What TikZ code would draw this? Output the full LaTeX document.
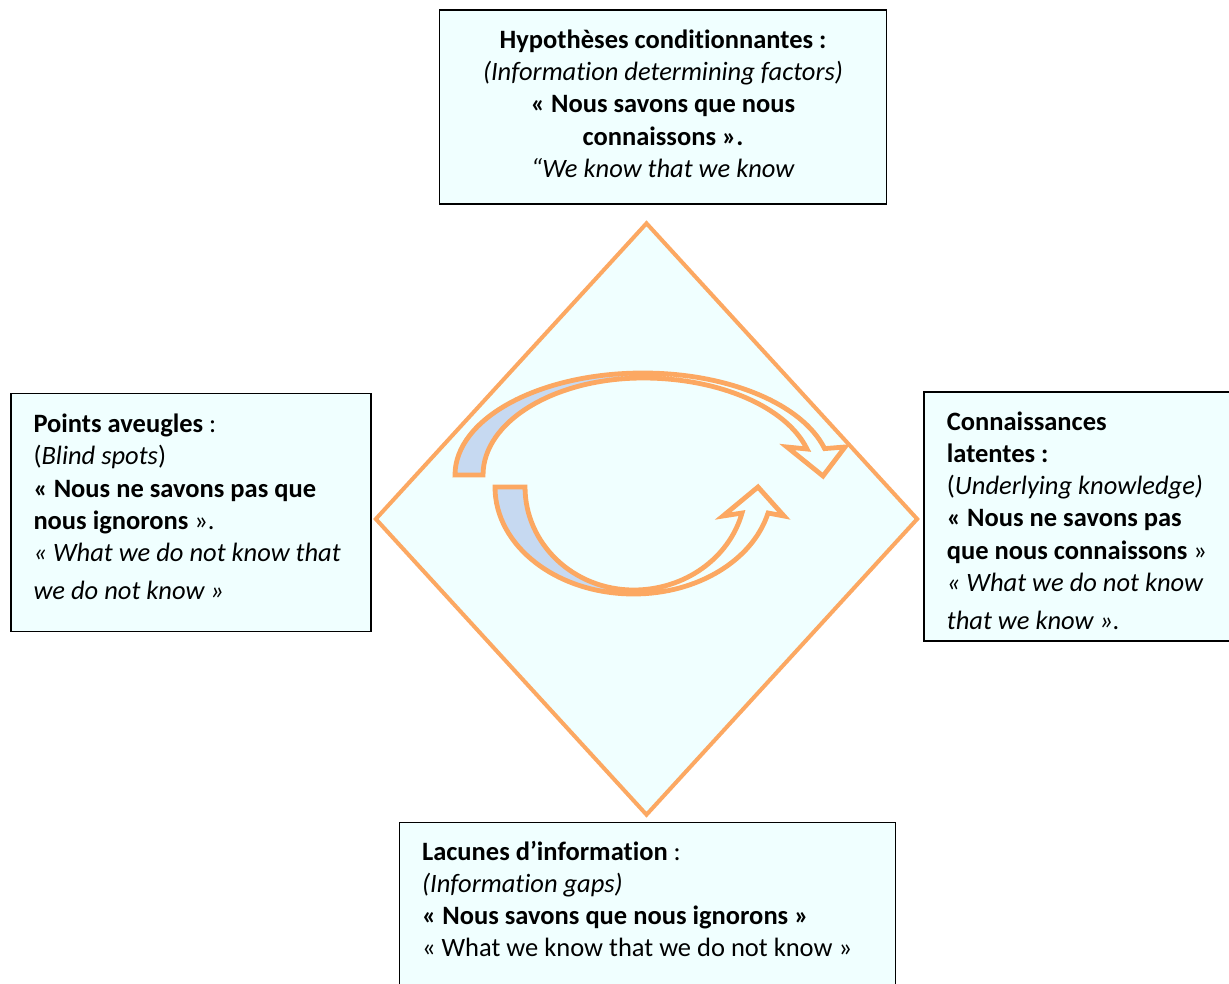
\documentclass[tikz,border=0pt]{standalone}
\usepackage{fontspec}
\setmainfont{Carlito}[Ligatures={TeX,NoCommon}]
\usetikzlibrary{shapes.geometric,positioning,calc}
\definecolor{PaleCyan}{HTML}{F0FFFF}
\definecolor{LoopOrange}{HTML}{FCA862}
\definecolor{BackBlue}{HTML}{C6D9F1}

\begin{document}
\begin{tikzpicture}[x=1pt, y=1pt,
  infobox/.style={rectangle, draw=black, line width=1.8pt, fill=PaleCyan, anchor=north west, inner sep=0pt, outer sep=0pt},
  infotext/.style={inner sep=0pt, align=left, font=\fontsize{26.5}{32.2}\selectfont, execute at begin node=\strut},
  quadrant/.style={diamond, draw=LoopOrange, line width=4pt, fill=PaleCyan, inner sep=0pt, minimum width=543pt, minimum height=593pt},
  loopline/.style={draw=LoopOrange, line width=4.8pt, line join=miter},
  loopback/.style={fill=BackBlue}
]

% Page
\path[use as bounding box, fill=white] (0,0) rectangle (1229,-983);

% Boxes
\node[infobox, minimum width=447pt, minimum height=194pt] (hypobox) at (439.5,-10) {};
\node[infobox, minimum width=360pt, minimum height=238pt] (aveuglebox) at (11,-393.5) {};
\node[infobox, minimum width=320pt, minimum height=249pt] (latentbox) at (924,-392) {};
\node[infobox, minimum width=496pt, minimum height=175pt] (lacunebox) at (399.5,-822.5) {};

% Diamond
\node[quadrant] (matrice) at (646.5,-519) {};

% Texts
\node[infotext, align=center, anchor=north] (hypotxt) at ([yshift=-19.7pt]hypobox.north) {%
  \textbf{Hypothèses conditionnantes :}\\
  \textit{(Information determining factors)}\\
  \textbf{« Nous savons que nous}\\
  \textbf{connaissons ».}\\
  \textit{“We know that we know}};
\node[infotext, anchor=north west] (aveugletxt) at ([xshift=22.3pt, yshift=-20.4pt]aveuglebox.north west) {%
  \textbf{Points aveugles} :\\
  (\textit{Blind spots})\\
  \textbf{« Nous ne savons pas que}\\
  \textbf{nous ignorons} ».\\
  \textit{« What we do not know that}\\[5.8pt]
  \textit{we do not know »}};
\node[infotext, anchor=north west] (latenttxt) at ([xshift=22.7pt, yshift=-19.4pt]latentbox.north west) {%
  \textbf{Connaissances}\\
  \textbf{latentes :}\\
  (\textit{Underlying knowledge)}\\
  \textbf{« Nous ne savons pas}\\
  \textbf{que nous connaissons} »\\
  \textit{« What we do not know}\\[6pt]
  \textit{that we know ».}};
\node[infotext, anchor=north west] (lacunetxt) at ([xshift=22.4pt, yshift=-18.1pt]lacunebox.north west) {%
  \textbf{Lacunes d’information} :\\
  \textit{(Information gaps)}\\
  \textbf{« Nous savons que nous ignorons »}\\
  « What we know that we do not know »};

% Upper curved arrow
\fill[loopback] (455,-475) arc[start angle=180, end angle=90, x radius=188, y radius=102]
  -- (643,-378) arc[start angle=90, end angle=180, x radius=160, y radius=97] -- cycle;
\draw[loopline] (455,-475) arc[start angle=180, end angle=15, x radius=188, y radius=102]
  -- (845,-447) -- (823,-476) -- (787,-447) -- (807,-449)
  arc[start angle=15.55, end angle=90, x radius=170.2, y radius=97]
  arc[start angle=90, end angle=180, x radius=160, y radius=97] -- cycle;

% Lower curved arrow
\fill[loopback] (495,-487) arc[start angle=180, end angle=270, x radius=138.6, y radius=107]
  -- (633.6,-590) arc[start angle=270, end angle=180, x radius=108.6, y radius=103] -- cycle;
\draw[loopline] (495,-487) arc[start angle=180, end angle=345.94, x radius=138.6, y radius=107]
  -- (784,-516) -- (758,-487) -- (723,-516) -- (742,-513)
  arc[start angle=345.38, end angle=270, x radius=112, y radius=103]
  arc[start angle=270, end angle=180, x radius=108.6, y radius=103] -- cycle;

\end{tikzpicture}
\end{document}
